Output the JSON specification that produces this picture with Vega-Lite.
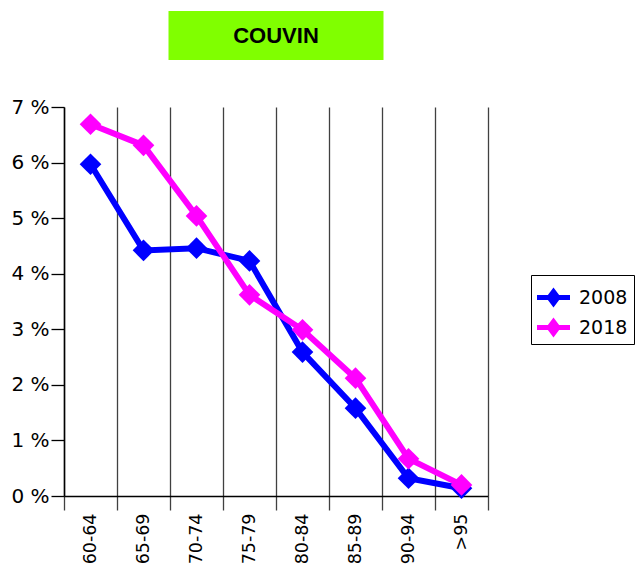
{
  "$schema": "https://vega.github.io/schema/vega-lite/v6.json",
  "padding": {"left": 10, "top": 11, "right": 0, "bottom": 0},
  "background": "white",
  "config": {"font": "DejaVu Sans"},
  "bounds": "flush",
  "center": true,
  "spacing": 47,
  "vconcat": [
    {
      "width": 215,
      "height": 49,
      "view": {"fill": "#80FF00", "stroke": null},
      "data": {"values": [{"t": "COUVIN"}]},
      "mark": {"type": "text", "font": "Liberation Sans", "fontWeight": "bold", "fontSize": 22, "color": "black", "align": "center", "baseline": "middle"},
      "encoding": {"text": {"field": "t", "type": "nominal"}}
    },
    {
      "width": 424,
      "height": 389,
      "view": {"stroke": null},
      "data": {
        "values": [
          {"age": "60-64", "year": "2008", "pct": 5.97},
          {"age": "65-69", "year": "2008", "pct": 4.42},
          {"age": "70-74", "year": "2008", "pct": 4.46},
          {"age": "75-79", "year": "2008", "pct": 4.23},
          {"age": "80-84", "year": "2008", "pct": 2.59},
          {"age": "85-89", "year": "2008", "pct": 1.58},
          {"age": "90-94", "year": "2008", "pct": 0.32},
          {"age": ">95", "year": "2008", "pct": 0.14},
          {"age": "60-64", "year": "2018", "pct": 6.69},
          {"age": "65-69", "year": "2018", "pct": 6.31},
          {"age": "70-74", "year": "2018", "pct": 5.04},
          {"age": "75-79", "year": "2018", "pct": 3.62},
          {"age": "80-84", "year": "2018", "pct": 2.99},
          {"age": "85-89", "year": "2018", "pct": 2.12},
          {"age": "90-94", "year": "2018", "pct": 0.67},
          {"age": ">95", "year": "2018", "pct": 0.2}
        ]
      },
      "mark": {"type": "line", "strokeWidth": 6, "point": {"shape": "diamond", "size": 470, "filled": true}},
      "encoding": {
        "x": {
          "field": "age", "type": "ordinal", "sort": null,
          "scale": {"padding": 0},
          "axis": {
            "title": null, "tickBand": "extent", "grid": true, "gridColor": "#404040", "gridWidth": 1.3,
            "tickSize": 14, "tickColor": "#404040", "tickWidth": 1.3,
            "domainColor": "black", "domainWidth": 1.5,
            "labelAngle": -90, "labelAlign": "right", "labelBaseline": "middle",
            "labelFontSize": 17.5, "labelColor": "black", "labelPadding": 3
          }
        },
        "y": {
          "field": "pct", "type": "quantitative",
          "scale": {"domain": [0, 7], "nice": false},
          "axis": {
            "title": null, "values": [0, 1, 2, 3, 4, 5, 6, 7], "grid": false,
            "labelExpr": "datum.value + ' %'",
            "tickSize": 13, "tickColor": "black", "tickWidth": 1.3,
            "domainColor": "black", "domainWidth": 1.5,
            "labelFontSize": 20, "labelColor": "black", "labelPadding": 2
          }
        },
        "color": {
          "field": "year", "type": "nominal",
          "scale": {"domain": ["2008", "2018"], "range": ["#0000FF", "#FF00FF"]},
          "legend": {
            "title": null, "orient": "none", "legendX": 467, "legendY": 264,
            "symbolType": "M-1,-0.15L-0.34,-0.15L0,-0.6L0.34,-0.15L1,-0.15L1,0.15L0.34,0.15L0,0.6L-0.34,0.15L-1,0.15Z",
            "symbolSize": 1089, "symbolStrokeWidth": 0,
            "labelFontSize": 19, "labelColor": "black", "labelOffset": 9,
            "strokeColor": "black", "padding": 6, "rowPadding": 3
          }
        }
      }
    }
  ]
}
